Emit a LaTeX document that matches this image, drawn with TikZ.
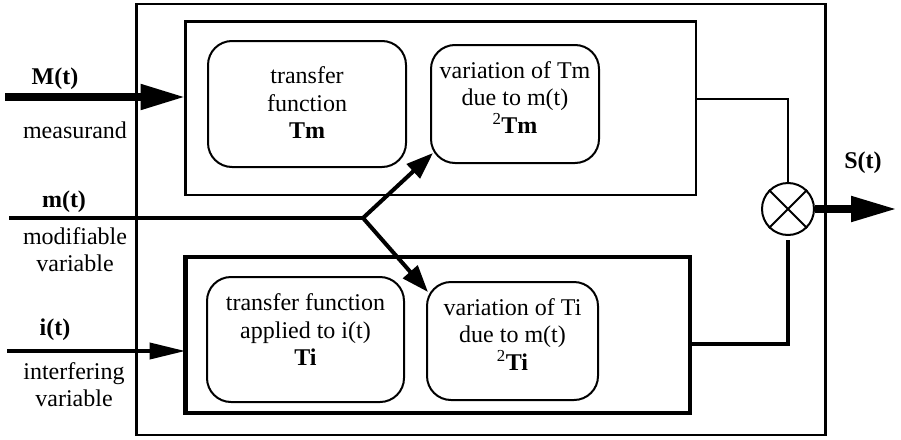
\documentclass[tikz,border=0pt]{standalone}
\usepackage{fontspec}
\setmainfont{Liberation Serif}
\usetikzlibrary{arrows.meta,calc}
\begin{document}
\begin{tikzpicture}[x=1pt,y=-1pt,
  frame/.style={draw, line width=2.7pt, inner sep=0pt, outer sep=0pt},
  rbox/.style={draw, line width=2pt, rounded corners=24pt, inner sep=0pt, outer sep=0pt},
  txt/.style={align=center, inner sep=0pt, font=\fontsize{24}{27.5}\selectfont},
  lbl/.style={align=center, inner sep=0pt, font=\fontsize{24}{27}\selectfont},
  bold/.style={lbl, font=\fontsize{24}{27}\selectfont\bfseries},
  bigarrow/.style={line width=8pt, -{Triangle[length=45pt,width=24pt]}},
  branch/.style={line width=4pt, line join=round, -{Triangle[length=27pt,width=19pt]}},
]
\fill[white] (0,0) rectangle (901,439);
\useasboundingbox (0,0) rectangle (901,439);

% sensor enclosure and the two function blocks
\node[frame, minimum width=689pt, minimum height=431pt] (outer) at (481,219.5) {};
\node[frame, minimum width=510.5pt, minimum height=173.5pt] (ubox) at (440.75,108.25) {};
\node[frame, line width=4.2pt, minimum width=504.5pt, minimum height=156pt] (lbox) at (437.75,335) {};

% rounded function boxes
\node[rbox, minimum width=198pt, minimum height=126pt] (tm) at (307,104) {};
\node[rbox, minimum width=168pt, minimum height=118pt] (vtm) at (515,104) {};
\node[rbox, minimum width=197pt, minimum height=125pt] (ti) at (305.5,339.5) {};
\node[rbox, minimum width=171pt, minimum height=118pt] (vti) at (512.5,341) {};

\node[txt] (tmtxt) at ($(tm.center)+(0,-1)$) {transfer\\function\\\textbf{Tm}};
\node[txt] (vtmtxt) at ($(vtm.center)+(0,-6.5)$) {variation of Tm\\due to m(t)\\\textsuperscript{2}\textbf{Tm}};
\node[txt] (titxt) at ($(ti.center)+(0,-9.5)$) {transfer function\\applied to i(t)\\\textbf{Ti}};
\node[txt] (vtitxt) at ($(vti.center)+(0,-6.5)$) {variation of Ti\\due to m(t)\\\textsuperscript{2}\textbf{Ti}};

% multiplier
\node[draw, circle, line width=2pt, minimum size=52pt, inner sep=0pt] (mul) at (788,209) {};
\draw[line width=2pt] (mul.45) -- (mul.225) (mul.135) -- (mul.315);

% input signals
\coordinate (Mstart) at (5,97);
\draw[bigarrow] (Mstart) -- (Mstart -| ubox.west);
\node[bold] (Mlbl) at (55,79) {M(t)};
\node[lbl] (Mtxt) at (75,130) {measurand};

\coordinate (mstart) at (9,218);
\coordinate (br) at (363,218);
\draw[line width=4pt] (mstart) -- (br);
\draw[branch] (br) -- ($(vtm.south west)+(2,-10)$);
\draw[branch] (br) -- ($(vti.north west)+(1,10)$);
\node[bold] (mlbl) at (64,202) {m(t)};
\node[lbl] (mtxt) at (75,250) {modifiable\\variable};

\coordinate (istart) at (7,351);
\draw[line width=4pt, -{Triangle[length=36pt,width=16pt]}] (istart) -- (istart -| lbox.west);
\node[bold] (ilbl) at (55,330) {i(t)};
\node[lbl] (itxt) at (74,385) {interfering\\variable};

% block outputs into the multiplier
\draw[line width=2pt] ($(ubox.north east)+(0,77)$) -| (mul.north);
\draw[line width=3.5pt, shorten >=4pt] ($(lbox.north east)+(0,87)$) -| (mul.south);

% output signal
\coordinate (sout) at (897,209);
\draw[line width=8pt, -{Triangle[length=46pt,width=24pt]}] (mul.east) -- (sout);
\node[bold] (slbl) at (863,163) {S(t)};
\end{tikzpicture}
\end{document}
